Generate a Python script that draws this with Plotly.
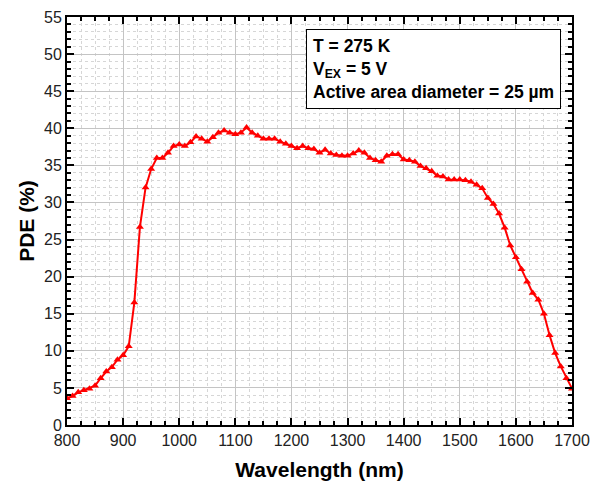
import plotly.graph_objects as go

wavelength = list(range(800, 1701, 10))
pde = [3.6, 3.9, 4.4, 4.7, 4.9, 5.3, 6.3, 7.2, 7.8, 8.8,
       9.4, 10.6, 16.5, 26.7, 32.0, 34.5, 36.0, 36.0, 36.7, 37.6,
       37.8, 37.6, 38.1, 38.9, 38.6, 38.2, 38.8, 39.4, 39.7, 39.4,
       39.2, 39.4, 40.1, 39.4, 39.0, 38.6, 38.6, 38.6, 38.2, 37.9,
       37.6, 37.3, 37.6, 37.3, 37.2, 36.7, 37.1, 36.6, 36.4, 36.3,
       36.3, 36.6, 37.0, 36.7, 36.0, 35.7, 35.5, 36.3, 36.5, 36.5,
       35.8, 35.7, 35.5, 34.9, 34.6, 34.2, 33.6, 33.5, 33.1, 33.1,
       33.1, 33.0, 32.8, 32.4, 31.9, 30.6, 29.8, 28.5, 26.6, 24.2,
       22.6, 21.0, 19.3, 17.8, 16.9, 15.0, 12.1, 9.7, 7.9, 6.3,
       4.9]

x_ticks = list(range(800, 1701, 100))
y_ticks = list(range(0, 56, 5))

FONT = "Liberation Sans, Arial, sans-serif"

fig = go.Figure()
fig.add_trace(go.Scatter(
    x=wavelength, y=pde, mode="lines+markers",
    line=dict(color="#ff0000", width=2),
    marker=dict(symbol="triangle-up", size=7, color="#ff0000"),
    showlegend=False,
))

axis_common = dict(
    showline=True, linecolor="black", linewidth=2, mirror="allticks",
    ticks="inside", ticklen=7, tickwidth=2, tickcolor="black",
    showgrid=True, gridcolor="#c4c4c4", gridwidth=1,
    zeroline=False, automargin=False,
    tickfont=dict(family=FONT, size=16, color="#222"),
)

minor_common = dict(ticks="inside", ticklen=4, tickwidth=1.5, tickcolor="black", showgrid=True,
                    gridcolor="#d6d6d6", griddash="dot", gridwidth=1)

fig.update_xaxes(
    range=[800, 1700], tickvals=x_ticks, ticktext=[str(v) for v in x_ticks],
    title=dict(text="<b>Wavelength (nm)</b>", font=dict(family=FONT, size=21, color="black"), standoff=14),
    minor=dict(dtick=25, **minor_common),
    **axis_common,
)
fig.update_yaxes(
    range=[0, 55], tickvals=y_ticks, ticktext=[str(v) for v in y_ticks],
    title=dict(text="<b>PDE (%)</b>", font=dict(family=FONT, size=21, color="black"), standoff=4),
    minor=dict(dtick=1, **minor_common),
    **axis_common,
)

fig.add_annotation(
    xref="paper", yref="paper", x=0.473, y=0.97, xanchor="left", yanchor="top",
    align="left", showarrow=False,
    text="<b>T = 275 K</b><br><b>V<sub>EX</sub> = 5 V</b><br><b>Active area diameter = 25 µm</b>",
    font=dict(family=FONT, size=17.5, color="black"),
    bordercolor="black", borderwidth=1, borderpad=6, bgcolor="white",
)

# page body has an 8px default margin, so the figure is sized/offset to compensate
fig.update_layout(
    width=592, height=477,
    margin=dict(l=59, r=28, t=9, b=60),
    paper_bgcolor="white", plot_bgcolor="white",
    font=dict(family=FONT),
)

fig.write_html("out.html")
